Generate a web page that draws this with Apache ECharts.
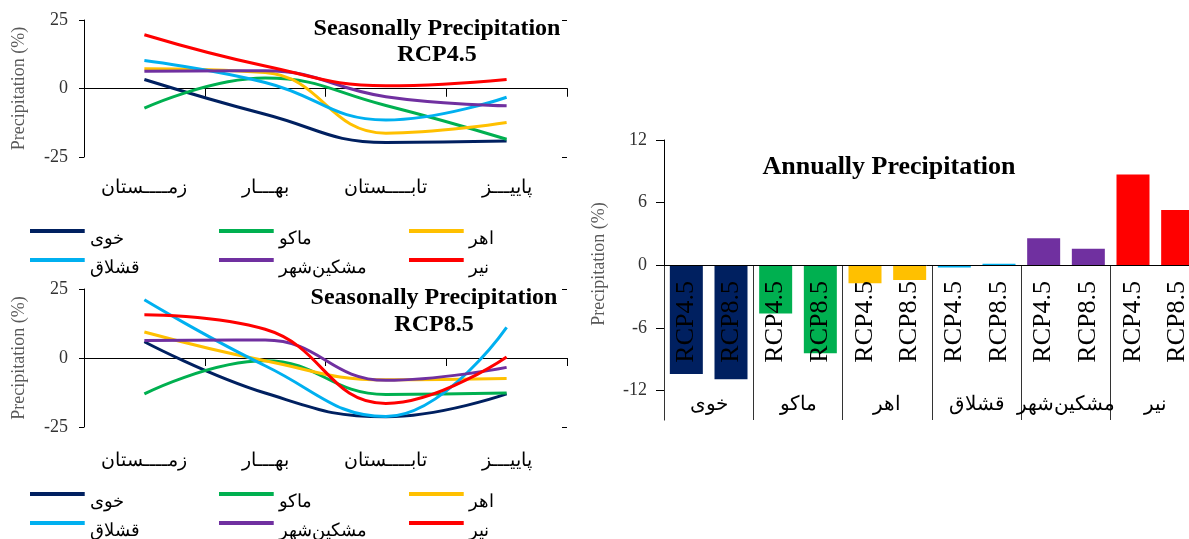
<!DOCTYPE html>
<html><head><meta charset="utf-8">
<script src="https://cdn.jsdelivr.net/npm/echarts@6/dist/echarts.min.js"></script>
<style>html,body{margin:0;padding:0;background:#fff}#c{width:1189px;height:539px}</style>
</head><body><div id="c"></div>
<script>
// ---------- data ----------
const seasons = ['زمــــستان', 'بهـــار', 'تابــــستان', 'پاییـــز'];
const stations = ['خوی', 'ماکو', 'اهر', 'قشلاق', 'مشکین\u200cشهر', 'نیر'];
const stationColors = ['#002060', '#00B050', '#FFC000', '#00B0F0', '#7030A0', '#FF0000'];
const scenarios = ['RCP4.5', 'RCP8.5'];
const yTicksAnnual = [-12, -6, 0, 6, 12];

// seasonal change (%), RCP4.5 : winter, spring, summer, autumn
const rcp45_khoy = [3.3, -9.4, -19.7, -19.2];
const rcp45_maku = [-7.2, 3.8, -6.2, -18.5];
const rcp45_ahar = [7.2, 5.8, -16.3, -12.4];
const rcp45_gheshlagh = [10.2, 2.2, -11.5, -3.2];
const rcp45_meshkin = [6.3, 6.5, -3.0, -6.3];
const rcp45_nir = [19.6, 8.2, 1.0, 3.3];

// seasonal change (%), RCP8.5
const rcp85_khoy = [5.9, -12.7, -21.3, -13.0];
const rcp85_maku = [-13.0, -1.0, -13.2, -12.7];
const rcp85_ahar = [9.4, -1.0, -7.9, -7.4];
const rcp85_gheshlagh = [21.1, -2.8, -21.2, 11.1];
const rcp85_meshkin = [6.3, 6.5, -8.1, -3.4];
const rcp85_nir = [15.7, 10.4, -16.5, 0.4];

// annual change (%)
const annual_rcp45 = [-10.4, -4.6, -1.7, -0.2, 2.6, 8.7];
const annual_rcp85 = [-10.9, -8.4, -1.4, 0.15, 1.6, 5.3];

// ---------- build ----------
const rcp45Seasonal = [rcp45_khoy, rcp45_maku, rcp45_ahar, rcp45_gheshlagh, rcp45_meshkin, rcp45_nir];
const rcp85Seasonal = [rcp85_khoy, rcp85_maku, rcp85_ahar, rcp85_gheshlagh, rcp85_meshkin, rcp85_nir];

const SERIF = '"Liberation Serif", "Times New Roman", "DejaVu Serif", serif';
const AX = '#000';

const barCats = [];
const barData = [];
stations.forEach((s, i) => {
  [annual_rcp45[i], annual_rcp85[i]].forEach((v, j) => {
    barCats.push(scenarios[j]);
    barData.push({ value: v, itemStyle: { color: stationColors[i] } });
  });
});

function lineX(grid, yIdx, margin) {
  return [
    { type: 'category', gridIndex: grid, data: seasons, boundaryGap: true,
      axisLine: { onZero: true, onZeroAxisIndex: yIdx, lineStyle: { color: AX, width: 1 } },
      axisTick: { show: true, length: 8, lineStyle: { color: AX } },
      axisLabel: { interval: 0, margin: margin, fontSize: 19, color: '#000', fontFamily: SERIF },
      splitLine: { show: false } },
    { type: 'category', gridIndex: grid, data: seasons, boundaryGap: true,
      axisLine: { show: false, onZero: true, onZeroAxisIndex: yIdx },
      axisTick: { show: true, inside: true, length: 8, lineStyle: { color: AX } },
      axisLabel: { show: false }, splitLine: { show: false } }
  ];
}
function lineY(grid) {
  return [
    { type: 'value', gridIndex: grid, min: -25, max: 25, interval: 25,
      axisLine: { show: true, lineStyle: { color: AX } },
      axisTick: { show: true, length: 5, lineStyle: { color: AX } },
      axisLabel: { margin: 16, fontSize: 18, color: '#333', fontFamily: SERIF },
      splitLine: { show: false },
      name: 'Precipitation (%)', nameLocation: 'middle', nameGap: 56,
      nameTextStyle: { fontSize: 18, color: '#595959', fontFamily: SERIF } },
    { type: 'value', gridIndex: grid, min: -25, max: 25, interval: 25,
      axisLine: { show: false },
      axisTick: { show: true, inside: true, length: 5, lineStyle: { color: AX } },
      axisLabel: { show: false }, splitLine: { show: false } }
  ];
}

const series = [];
[rcp45Seasonal, rcp85Seasonal].forEach((set, k) => {
  set.forEach((arr, i) => {
    series.push({
      type: 'line', name: stations[i], xAxisIndex: k * 2, yAxisIndex: k * 2,
      data: arr, smooth: 0.45, symbol: 'none',
      lineStyle: { width: 3, color: stationColors[i] },
      itemStyle: { color: stationColors[i] }, z: 3
    });
  });
});
series.push({
  type: 'bar', name: 'annual', xAxisIndex: 4, yAxisIndex: 4,
  data: barData, barWidth: 33, z: 2
});

const legendIcon = 'path://M0,0H55V4H0Z M0,20H0.1V20.1H0Z';
function legends(top) {
  const cols = [[0, 3], [1, 4], [2, 5]];
  const lefts = [30, 219, 409];
  return cols.map((c, i) => ({
    orient: 'vertical', left: lefts[i], top: top, width: 180, height: 70, padding: 0,
    itemWidth: 55, itemHeight: 20, itemGap: 9, icon: legendIcon,
    selectedMode: false,
    data: c.map(idx => stations[idx]),
    textStyle: { fontSize: 18, color: '#000', fontFamily: SERIF }
  }));
}

function titleText(x, y, txt, size) {
  return { type: 'text', x: x, y: y,
    style: { text: txt, align: 'center', verticalAlign: 'middle',
      fontSize: size, fontWeight: 'bold', fontFamily: SERIF, fill: '#000' } };
}

const option = {
  backgroundColor: '#fff',
  animation: false,
  grid: [
    { left: 84, top: 20, width: 483, height: 137, outerBoundsMode: 'none' },
    { left: 84, top: 289, width: 483, height: 138, outerBoundsMode: 'none' },
    { left: 664, top: 140, width: 536, height: 280, outerBoundsMode: 'none' }
  ],
  xAxis: [
    ...lineX(0, 0, 22),
    ...lineX(1, 2, 25),
    { type: 'category', gridIndex: 2, data: barCats, z: 10,
      axisLine: { onZero: true, onZeroAxisIndex: 4, lineStyle: { color: AX } },
      axisTick: { show: false },
      axisLabel: { interval: 0, rotate: 90, margin: -139, fontSize: 26, color: '#000', fontFamily: SERIF },
      splitLine: { show: false } },
    { type: 'category', gridIndex: 2, data: stations, position: 'bottom',
      axisLine: { show: false, onZero: false },
      axisTick: { show: true, inside: true, length: 155, lineStyle: { color: '#333' } },
      axisLabel: { interval: 0, inside: true, margin: 5, fontSize: 20, color: '#000', fontFamily: SERIF },
      splitLine: { show: false } }
  ],
  yAxis: [
    ...lineY(0),
    ...lineY(1),
    { type: 'value', gridIndex: 2, min: -14.8, max: 12,
      axisLine: { show: true, lineStyle: { color: AX } },
      axisTick: { show: true, length: 8, customValues: yTicksAnnual, lineStyle: { color: AX } },
      axisLabel: { margin: 17, fontSize: 18, color: '#333', fontFamily: SERIF, customValues: yTicksAnnual },
      splitLine: { show: false },
      name: 'Precipitation (%)', nameLocation: 'middle', nameGap: 56,
      nameTextStyle: { fontSize: 18, color: '#595959', fontFamily: SERIF, padding: [0, 0, 0, 32] } }
  ],
  legend: [...legends(229), ...legends(492)],
  graphic: [
    titleText(437, 29, 'Seasonally Precipitation', 24),
    titleText(437, 55, 'RCP4.5', 24),
    titleText(434, 298, 'Seasonally Precipitation', 24),
    titleText(434, 325, 'RCP8.5', 24),
    titleText(889, 167, 'Annually Precipitation', 26)
  ],
  series: series
};
const chart = echarts.init(document.getElementById('c'), null, { renderer: 'canvas' });
chart.setOption(option);
</script></body></html>
